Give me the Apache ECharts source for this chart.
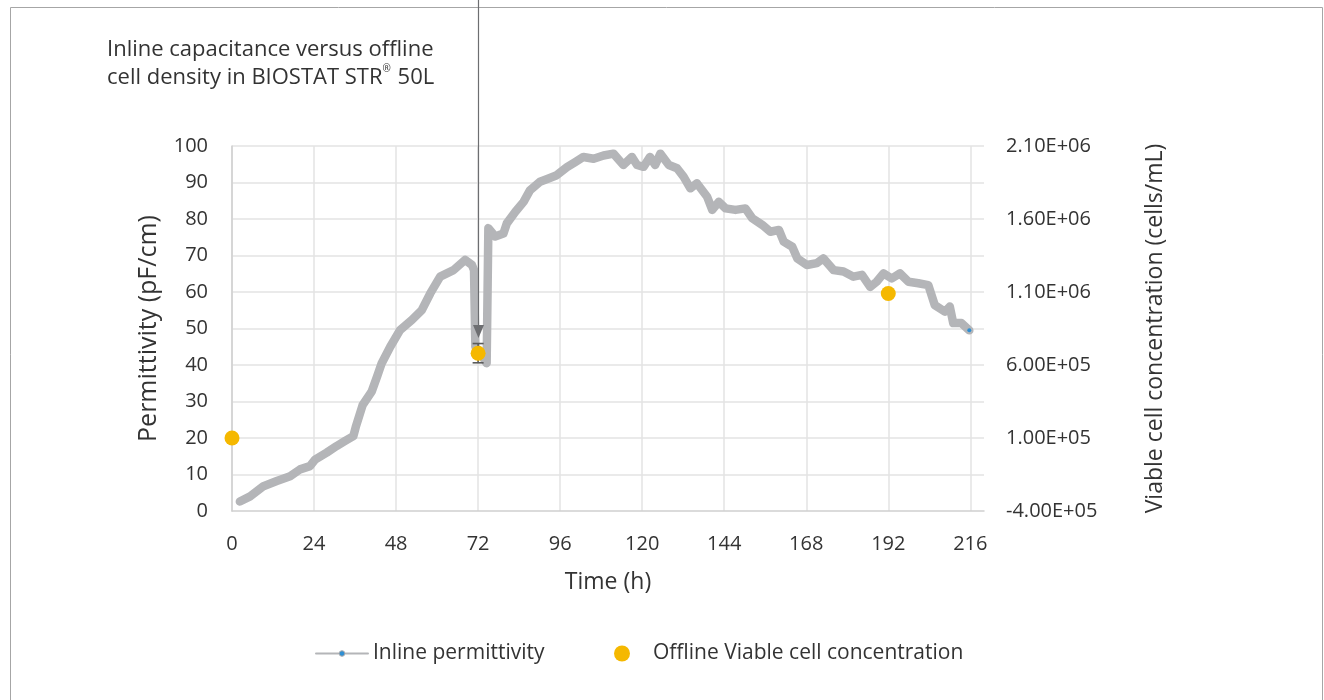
<!DOCTYPE html>
<html>
<head>
<meta charset="utf-8">
<script src="https://cdn.jsdelivr.net/npm/echarts@6/dist/echarts.min.js"></script>
<style>
html,body{margin:0;padding:0;background:#fff;}
#chart{width:1324px;height:700px;}
</style>
</head>
<body>
<div id="chart"></div>
<script>
// ---- data ----
const timeH = [2.3,5.3,9.2,13.1,17,19.9,22.8,24.3,27.7,30.6,33.1,35.5,36.2,38.2,40.9,42.5,43.8,46.3,49.2,52.6,55.5,58,60.9,64.8,68.2,70.2,70.8,71.2,73.5,74.5,75,77,79.4,80.4,82.9,85.3,87.2,90.1,92.6,95,98,100.4,102.8,105.8,108.7,111.6,114.5,117,118.5,120.4,122.3,123.8,125.3,127.8,130.2,132.1,134.1,136,139,140.5,142.4,144.4,147.3,150.2,152.2,155.1,157.5,160,161.4,163.9,165.4,168.2,171.1,173,176,178.9,181.8,184.3,186.7,188.6,190.6,193,195.4,197.9,200.8,203.7,205.6,208.6,210,211,213.4,215.7];
const permittivity = [2.6,4.0,6.8,8.2,9.5,11.4,12.3,14.1,16.0,17.8,19.2,20.5,23.0,29.0,32.8,37.0,40.5,45.0,49.6,52.3,55.0,59.6,64.2,66.0,68.8,67.4,66.0,45.0,42.0,40.5,77.5,75.2,76,78.8,82,84.7,87.9,90.2,91.1,92,94.2,95.6,97,96.5,97.4,97.9,94.8,97,94.8,94.3,97,94.8,97.9,94.8,93.9,91.6,88.4,89.8,86.1,82.5,84.7,82.9,82.5,82.9,80.2,78.4,76.5,77,73.8,72.4,69.2,67.4,67.9,69.2,66,65.6,64.2,64.7,61.4,62.8,65.1,63.7,65.1,62.8,62.4,61.9,56.4,54.6,56,51.5,51.5,49.5];
const offlineTime = [0, 72, 192];
const offlineVCC = [1.0e5, 6.8e5, 1.09e6];
const errTime = [72];
const errLow = [6.15e5];
const errHigh = [7.47e5];
const xTicks = [0,24,48,72,96,120,144,168,192,216];
const arrowTime = 72;
const arrowTipValue = 47.4;

const TXT = '#333333';
const FONT = '"Open Sans", Lato, sans-serif';

function sci(v){
  const s = Number(v).toExponential(2);
  const parts = s.split('e');
  const sign = parts[1][0];
  const d = parts[1].slice(1).padStart(2,'0');
  return parts[0] + 'E' + sign + d;
}

const lineData = timeH.map((t,i)=>{
  const item = {value:[t, permittivity[i]]};
  if (i !== timeH.length-1) item.symbol = 'none';
  return item;
});
const scatterData = offlineTime.map((t,i)=>[t, offlineVCC[i]]);
const errData = errTime.map((t,i)=>[t, errLow[i], errHigh[i]]);

const chart = echarts.init(document.getElementById('chart'));
chart.setOption({
  animation:false,
  textStyle:{fontFamily:FONT},
  title:{
    text:'{a|Inline capacitance versus offline}\n{a|cell density in BIOSTAT STR}{s|®}{a| 50L}',
    left:107, top:36, padding:0,
    textStyle:{
      fontWeight:'normal',
      rich:{
        a:{fontSize:22, color:TXT, fontFamily:FONT, fontWeight:'normal', lineHeight:28},
        s:{fontSize:10, color:TXT, fontFamily:FONT, fontWeight:'normal', lineHeight:28, verticalAlign:'top', padding:[0,1,10,0]}
      }
    }
  },
  grid:{left:232, right:340, top:146, bottom:189, containLabel:false},
  legend:[{
    data:[{name:'Inline permittivity', itemStyle:{color:'#2f8fd3', borderColor:'#a9aaad', borderWidth:1}, lineStyle:{width:2, color:'#b4b5b8'}}],
    left:315, top:643, itemWidth:52, itemHeight:7, padding:0,
    textStyle:{fontSize:21, color:TXT, fontFamily:FONT}
  },{
    data:['Offline Viable cell concentration'],
    left:614, top:643, itemWidth:52, itemHeight:16, padding:0,
    textStyle:{fontSize:21, color:TXT, fontFamily:FONT}
  }],
  xAxis:{
    type:'value', min:0, max:220, interval:24,
    name:'Time (h)', nameLocation:'middle', nameGap:60,
    nameTextStyle:{fontSize:23, color:TXT, fontFamily:FONT},
    axisLine:{show:true, lineStyle:{color:'#cfcfcf', width:1.5}},
    axisTick:{show:false},
    axisLabel:{fontSize:20, color:TXT, margin:23, showMaxLabel:false,
      formatter:v=> xTicks.indexOf(v) >= 0 ? String(v) : ''},
    splitLine:{show:true, showMaxLine:false, lineStyle:{color:'#e3e3e3', width:1.5}}
  },
  yAxis:[{
    type:'value', min:0, max:100, interval:10, position:'left',
    name:'Permittivity (pF/cm)', nameLocation:'middle', nameGap:71, nameRotate:90,
    nameTextStyle:{fontSize:25, color:TXT, fontFamily:FONT},
    axisLine:{show:true, lineStyle:{color:'#cfcfcf', width:1.5}},
    axisTick:{show:false},
    axisLabel:{fontSize:20, color:TXT, margin:24},
    splitLine:{show:true, showMinLine:false, lineStyle:{color:'#e3e3e3', width:1.5}}
  },{
    type:'value', min:-4e5, max:2.1e6, interval:5e5, position:'right',
    name:'Viable cell concentration (cells/mL)', nameLocation:'middle', nameGap:160, nameRotate:90,
    nameTextStyle:{fontSize:23, color:TXT, fontFamily:FONT},
    axisLine:{show:false}, axisTick:{show:false},
    axisLabel:{fontSize:20, color:TXT, margin:22, formatter:sci},
    splitLine:{show:false}
  }],
  series:[{
    name:'Inline permittivity', type:'line', xAxisIndex:0, yAxisIndex:0,
    data:lineData, symbol:'circle', symbolSize:4, showSymbol:true,
    itemStyle:{color:'#2f8fd3'},
    lineStyle:{color:'#b4b5b8', width:8.5, cap:'round', join:'round'},
    z:2
  },{
    name:'errbar', type:'custom', xAxisIndex:0, yAxisIndex:1, data:errData, z:3,
    renderItem:(params, api)=>{
      const x = api.value(0);
      const pLo = api.coord([x, api.value(1)]);
      const pHi = api.coord([x, api.value(2)]);
      const w = 5.5;
      const st = {stroke:'#5a5a5a', lineWidth:1.6};
      return {type:'group', children:[
        {type:'line', shape:{x1:pLo[0], y1:pLo[1], x2:pHi[0], y2:pHi[1]}, style:st},
        {type:'line', shape:{x1:pLo[0]-w, y1:pLo[1], x2:pLo[0]+w, y2:pLo[1]}, style:st},
        {type:'line', shape:{x1:pHi[0]-w, y1:pHi[1], x2:pHi[0]+w, y2:pHi[1]}, style:st}
      ]};
    }
  },{
    name:'Offline Viable cell concentration', type:'scatter', xAxisIndex:0, yAxisIndex:1,
    data:scatterData, symbol:'circle', symbolSize:15,
    itemStyle:{color:'#f5b800', opacity:1}, z:4
  }]
});

// annotation arrow + outer frame
const tip = chart.convertToPixel({xAxisIndex:0, yAxisIndex:0}, [arrowTime, arrowTipValue]);
const ax = Math.round(tip[0]) + 0.5;
chart.setOption({
  graphic:[
    {type:'rect', shape:{x:10.5, y:7.5, width:1312, height:720}, style:{fill:'none', stroke:'#a6a6a6', lineWidth:1}, z:0, silent:true},
    {type:'line', shape:{x1:ax, y1:0, x2:ax, y2:tip[1]-12}, style:{stroke:'#6d6e71', lineWidth:1.2}, z:100},
    {type:'polygon', shape:{points:[[ax-5.5, tip[1]-13],[ax+5.5, tip[1]-13],[ax, tip[1]]]}, style:{fill:'#6d6e71'}, z:100}
  ]
});
</script>
</body>
</html>
